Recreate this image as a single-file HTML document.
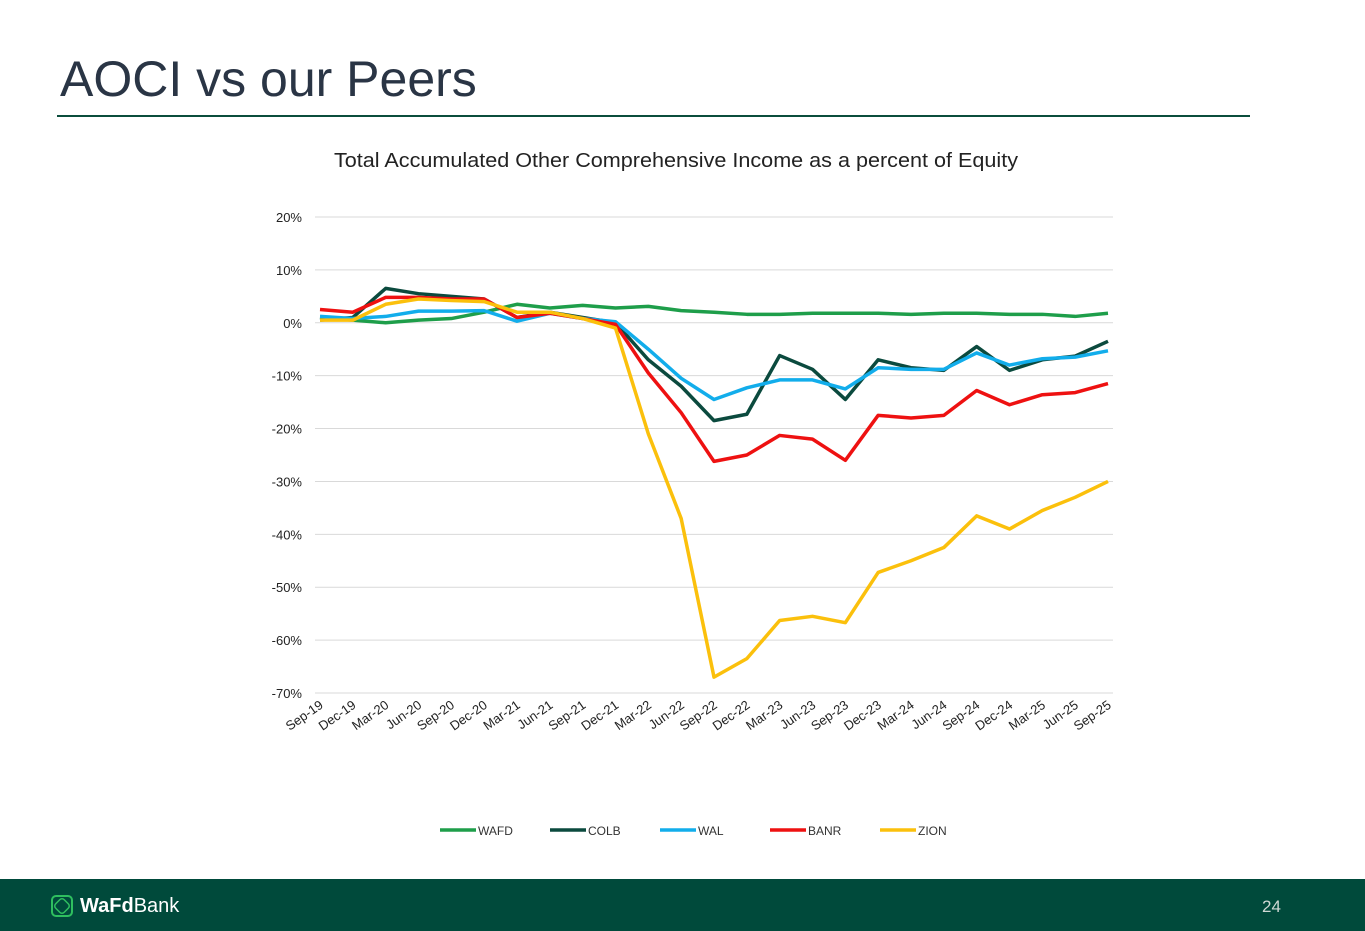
<!DOCTYPE html>
<html><head><meta charset="utf-8"><style>
body{margin:0;width:1365px;height:931px;background:#fff;position:relative;overflow:hidden;font-family:"Liberation Sans",sans-serif}
#title{position:absolute;left:60px;top:50px;font-size:50px;color:#2a3545;font-weight:normal;margin:0}
#rule{position:absolute;left:57px;top:115px;width:1193px;height:2px;background:#0b4d3c}
#footer{position:absolute;left:0;top:879px;width:1365px;height:52px;background:#004a3b}
#logo{position:absolute;left:80px;top:16px;color:#fff;font-size:20px}
#pnum{position:absolute;left:1262px;top:18px;color:#cfd8d4;font-size:17px}
</style></head><body>
<h1 id="title">AOCI vs our Peers</h1>
<div id="rule"></div>
<svg id="chart" width="1365" height="870" style="position:absolute;left:0;top:0"></svg>
<div id="footer">
<svg width="30" height="30" style="position:absolute;left:47px;top:12px"><rect x="5" y="5" width="20" height="20" rx="4" fill="none" stroke="#2fbf5f" stroke-width="2"/><rect x="9" y="9" width="12" height="12" rx="3" fill="none" stroke="#2fbf5f" stroke-width="1.5" transform="rotate(45 15 15)"/></svg>
<div id="logo"><b>WaFd</b>Bank</div>
<div id="pnum">24</div>
</div>
<script>
const categories=["Sep-19","Dec-19","Mar-20","Jun-20","Sep-20","Dec-20","Mar-21","Jun-21","Sep-21","Dec-21","Mar-22","Jun-22","Sep-22","Dec-22","Mar-23","Jun-23","Sep-23","Dec-23","Mar-24","Jun-24","Sep-24","Dec-24","Mar-25","Jun-25","Sep-25"];
const wafd=[1,0.5,0,0.5,0.8,2,3.5,2.8,3.3,2.8,3.1,2.3,2,1.6,1.6,1.8,1.8,1.8,1.6,1.8,1.8,1.6,1.6,1.2,1.8];
const colb=[0.5,1,6.5,5.5,5,4.5,1,2,1,0,-7,-12,-18.5,-17.3,-6.2,-8.8,-14.5,-7,-8.5,-9,-4.5,-9,-7,-6.3,-3.5];
const wal=[1.2,0.8,1.2,2.2,2.2,2.3,0.3,1.8,0.8,0.2,-5,-10.5,-14.5,-12.3,-10.8,-10.8,-12.5,-8.5,-8.8,-8.8,-5.7,-8,-6.8,-6.5,-5.3];
const banr=[2.5,2,4.8,4.8,4.5,4.5,1,1.8,0.8,-0.3,-9.5,-17,-26.2,-25,-21.3,-22,-26,-17.5,-18,-17.5,-12.8,-15.5,-13.6,-13.2,-11.5];
const zion=[0.5,0.5,3.5,4.5,4.2,4,2,2,0.8,-1,-21,-37,-67,-63.5,-56.3,-55.5,-56.7,-47.2,-45,-42.5,-36.5,-39,-35.5,-33,-30];
const yTicks=[20,10,0,-10,-20,-30,-40,-50,-60,-70];
const seriesNames=["WAFD","COLB","WAL","BANR","ZION"];
const seriesData=[wafd,colb,wal,banr,zion];
const colors=["#1e9e4a","#0b4a3e","#12adeb","#ee1111","#fbc00c"];
const NS="http://www.w3.org/2000/svg",svg=document.getElementById('chart');
const x0=320,x1=1108,y20=217,y70=693;
const xs=i=>x0+i*(x1-x0)/(categories.length-1);
const ys=v=>y20+(20-v)*(y70-y20)/90;
function mk(t,a,txt){const e=document.createElementNS(NS,t);for(const k in a)e.setAttribute(k,a[k]);if(txt!=null)e.textContent=txt;svg.appendChild(e);return e;}
let t=mk('text',{x:676,y:167,'text-anchor':'middle','font-size':20,textLength:684,lengthAdjust:'spacingAndGlyphs',fill:'#222'},'Total Accumulated Other Comprehensive Income as a percent of Equity');


yTicks.forEach(v=>{
 let l=mk('line',{x1:315,x2:1113,y1:ys(v),y2:ys(v),stroke:'#d9d9d9','stroke-width':1});
 
 
 let tx=mk('text',{x:302,y:ys(v)+5,'text-anchor':'end','font-size':13,fill:'#222'},v+'%');
 
 
});
categories.forEach((c,i)=>{
 let tx=mk('text',{x:xs(i)+4,y:707,'text-anchor':'end','font-size':13,fill:'#222',transform:`rotate(-35 ${xs(i)+4} 707)`},c);
 
 
});
seriesData.forEach((d,s)=>{
 let p=mk('polyline',{points:d.map((v,i)=>xs(i)+','+ys(v)).join(' '),fill:'none',stroke:colors[s],'stroke-width':3.5,'stroke-linejoin':'round'});
 
 
 const lx=440+s*110;
 let ll=mk('line',{x1:lx,x2:lx+36,y1:830,y2:830,stroke:colors[s],'stroke-width':3.5});
 
 
 let lt=mk('text',{x:lx+38,y:835,'font-size':12,fill:'#333'},seriesNames[s]);
 
 
});
</script>
</body></html>
